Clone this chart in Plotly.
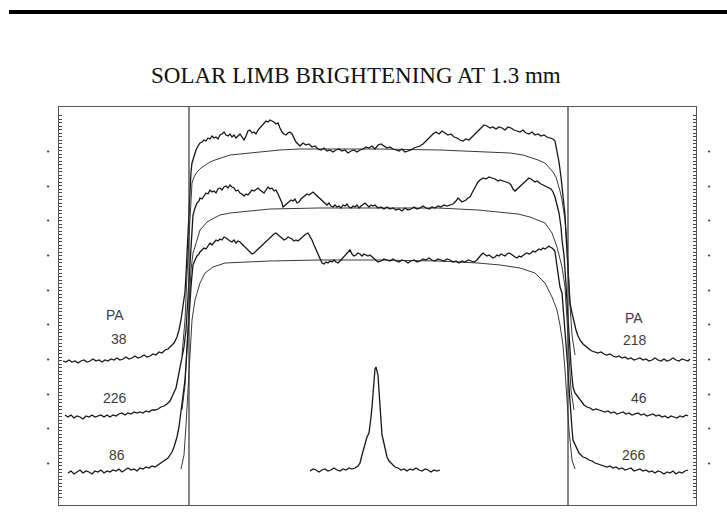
import plotly.graph_objects as go
import numpy as np

# ---- data (offset from disk centre, signal) ----
scan_pa38_218 = [(-315,144),(-312,143),(-309,145),(-306,143),(-303,144),(-300,142),(-297,144),(-294,145),(-291,143),(-288,144),(-285,146),(-282,144),(-279,145),(-276,143),(-273,145),(-270,144),(-267,146),(-264,145),(-261,147),(-258,145),(-255,146),(-252,148),(-249,146),(-246,147),(-243,149),(-240,147),(-237,148),(-234,150),(-231,148),(-228,149),(-225,151),(-222,150),(-219,153),(-216,152),(-213,155),(-210,156),(-207,159),(-204,162),(-201,168),(-199,175),(-197,185),(-195,198),(-193,213),(-192,230),(-191,250),(-190,275),(-189,300),(-188,320),(-187,333),(-186,342),(-184,350),(-182,355),(-180,359),(-178,362),(-176,363),(-174,365),(-172,364),(-170,367),(-168,366),(-166,369),(-164,367),(-162,368),(-160,366),(-158,370),(-156,371),(-154,373),(-152,370),(-150,369),(-148,371),(-146,368),(-144,370),(-142,367),(-140,369),(-138,371),(-136,368),(-134,365),(-132,369),(-130,374),(-128,375),(-126,372),(-124,373),(-122,371),(-120,375),(-118,377),(-116,380),(-114,382),(-112,384),(-110,383),(-108,385),(-106,384),(-104,383),(-102,381),(-100,382),(-98,377),(-96,373),(-94,371),(-92,370),(-90,372),(-88,373),(-86,371),(-84,367),(-82,363),(-80,361),(-78,359),(-75,362),(-72,360),(-69,361),(-66,358),(-63,359),(-60,356),(-57,355),(-54,357),(-51,354),(-48,355),(-45,353),(-42,355),(-39,356),(-36,354),(-33,355),(-30,352),(-27,354),(-24,355),(-21,353),(-18,355),(-15,356),(-12,358),(-9,357),(-6,359),(-3,356),(0,360),(3,361),(6,359),(9,357),(12,358),(15,356),(18,355),(21,354),(24,356),(27,353),(30,354),(33,355),(36,357),(39,358),(42,359),(45,361),(48,364),(50,367),(52,369),(55,371),(58,373),(61,371),(64,374),(67,372),(70,370),(73,371),(76,368),(79,367),(82,365),(85,364),(88,366),(91,365),(94,368),(97,371),(100,375),(103,378),(106,380),(109,379),(112,377),(115,378),(118,376),(121,378),(124,377),(127,375),(130,378),(133,377),(136,375),(139,374),(142,373),(145,375),(148,372),(151,371),(154,373),(157,370),(160,371),(163,369),(166,370),(169,368),(172,367),(175,366),(177,364),(179,355),(181,343),(183,328),(185,310),(187,290),(188,270),(189,250),(190,230),(191,215),(192,202),(194,192),(196,183),(198,175),(200,169),(202,165),(205,161),(208,158),(211,156),(214,154),(217,153),(220,152),(223,153),(226,151),(229,150),(232,151),(235,149),(238,148),(241,149),(244,147),(247,148),(250,146),(253,147),(256,145),(259,146),(262,147),(265,145),(268,146),(271,144),(274,145),(277,147),(280,145),(283,144),(286,146),(289,144),(292,145),(295,147),(298,145),(301,144),(304,146),(307,145),(310,144),(312,146)]

scan_pa226_46 = [(-313,90),(-310,88),(-307,90),(-304,87),(-301,89),(-298,88),(-295,86),(-292,89),(-289,88),(-286,90),(-283,88),(-280,89),(-277,90),(-274,88),(-271,90),(-268,88),(-265,90),(-262,89),(-259,91),(-256,92),(-253,90),(-250,92),(-247,91),(-244,93),(-241,92),(-238,93),(-235,92),(-232,94),(-229,93),(-226,95),(-223,95),(-220,96),(-217,98),(-214,99),(-211,101),(-208,104),(-206,108),(-204,112),(-202,117),(-201,122),(-199,132),(-197,142),(-195,152),(-194,158),(-192,175),(-191,192),(-190,212),(-189,230),(-188,245),(-187,262),(-186,276),(-185,290),(-183,297),(-181,302),(-179,304),(-178,307),(-176,306),(-174,309),(-172,312),(-170,311),(-168,315),(-166,313),(-164,314),(-162,312),(-160,316),(-158,317),(-156,315),(-154,318),(-152,319),(-150,317),(-148,320),(-146,318),(-144,317),(-142,314),(-140,315),(-138,312),(-136,311),(-134,309),(-132,311),(-130,310),(-128,313),(-126,315),(-124,314),(-122,316),(-120,317),(-118,315),(-116,313),(-114,312),(-112,315),(-110,318),(-108,316),(-106,317),(-104,314),(-102,315),(-100,311),(-98,307),(-96,302),(-95,298),(-93,300),(-91,302),(-89,303),(-87,305),(-85,304),(-83,306),(-81,302),(-79,303),(-77,306),(-75,308),(-73,309),(-71,311),(-69,310),(-67,312),(-65,313),(-63,311),(-61,309),(-59,307),(-57,305),(-55,303),(-53,301),(-51,300),(-49,302),(-47,299),(-45,298),(-43,300),(-41,298),(-39,299),(-37,297),(-35,300),(-33,299),(-31,301),(-29,298),(-27,297),(-25,299),(-23,298),(-21,300),(-19,297),(-17,299),(-15,301),(-13,302),(-11,300),(-9,298),(-7,300),(-5,299),(-3,300),(0,297),(3,298),(6,296),(9,298),(12,296),(15,297),(18,295),(21,296),(24,294),(27,297),(30,295),(33,296),(36,298),(39,296),(42,297),(45,299),(48,297),(51,296),(54,298),(57,297),(60,299),(63,298),(66,300),(69,299),(72,300),(75,301),(78,304),(80,307),(82,305),(84,303),(86,304),(88,305),(90,307),(92,308),(94,312),(96,316),(98,320),(100,323),(102,325),(105,327),(108,326),(111,328),(114,327),(117,326),(120,324),(122,325),(125,324),(128,323),(131,322),(133,320),(135,316),(137,314),(139,316),(141,318),(143,320),(145,322),(147,323),(149,325),(151,327),(153,326),(155,324),(157,323),(159,324),(161,322),(163,321),(165,320),(167,319),(169,318),(171,317),(173,316),(175,313),(177,308),(179,300),(181,292),(183,278),(184,265),(186,250),(187,238),(188,220),(189,203),(190,185),(191,170),(192,155),(193,140),(194,128),(195,118),(197,112),(200,108),(203,104),(206,100),(209,98),(212,97),(215,95),(218,96),(221,95),(224,94),(227,93),(230,94),(233,92),(236,93),(239,91),(242,92),(245,93),(248,91),(251,92),(254,90),(257,91),(260,92),(263,90),(266,91),(269,89),(272,90),(275,91),(278,89),(281,90),(284,88),(287,89),(290,87),(293,89),(296,88),(299,87),(302,89),(305,88),(308,90),(310,89)]

scan_pa86_266 = [(-310,32),(-307,34),(-304,31),(-301,33),(-298,35),(-295,32),(-292,34),(-289,33),(-286,31),(-283,34),(-280,33),(-277,35),(-274,32),(-271,34),(-268,33),(-265,35),(-262,34),(-259,36),(-256,33),(-253,35),(-250,37),(-247,35),(-244,36),(-241,34),(-238,37),(-235,36),(-232,38),(-229,37),(-226,39),(-223,38),(-220,40),(-217,42),(-214,44),(-212,45),(-210,47),(-208,50),(-206,53),(-204,58),(-202,64),(-201,68),(-199,78),(-197,92),(-195,108),(-193,125),(-192,140),(-191,158),(-190,175),(-189,192),(-188,205),(-187,218),(-186,230),(-185,240),(-183,245),(-181,249),(-179,251),(-178,253),(-176,255),(-174,257),(-172,256),(-170,259),(-168,262),(-166,260),(-164,263),(-162,265),(-160,264),(-158,266),(-156,265),(-154,268),(-152,267),(-150,265),(-148,264),(-146,263),(-144,265),(-142,262),(-140,264),(-138,263),(-136,261),(-134,259),(-132,257),(-130,255),(-128,253),(-126,251),(-124,252),(-122,254),(-120,256),(-118,258),(-116,260),(-114,262),(-112,264),(-110,265),(-108,267),(-106,269),(-104,271),(-102,272),(-100,270),(-98,268),(-96,266),(-94,265),(-92,266),(-90,268),(-88,267),(-86,266),(-84,264),(-82,265),(-80,264),(-78,266),(-76,268),(-74,269),(-72,271),(-70,272),(-68,269),(-66,265),(-64,260),(-62,255),(-60,250),(-58,245),(-56,242),(-54,241),(-52,243),(-50,242),(-48,244),(-46,243),(-44,245),(-42,243),(-40,242),(-38,244),(-36,246),(-34,248),(-32,250),(-30,252),(-28,255),(-26,251),(-24,249),(-22,250),(-20,252),(-18,251),(-16,249),(-14,251),(-12,250),(-10,249),(-8,250),(-6,248),(-4,247),(-2,245),(0,243),(3,244),(6,246),(9,245),(12,244),(15,246),(18,244),(21,243),(24,245),(27,244),(30,242),(33,244),(36,245),(39,243),(42,244),(45,246),(48,245),(51,247),(54,245),(57,244),(60,246),(63,245),(66,244),(69,246),(72,245),(75,243),(78,244),(81,242),(84,244),(87,243),(90,245),(93,244),(96,243),(99,245),(101,248),(103,250),(105,252),(107,250),(109,249),(111,250),(113,248),(115,247),(117,248),(119,250),(121,249),(123,251),(125,250),(127,249),(129,251),(131,252),(133,251),(135,249),(137,248),(139,247),(141,249),(143,248),(145,250),(147,251),(149,252),(151,251),(153,252),(155,254),(157,253),(159,255),(161,256),(163,255),(165,257),(167,256),(169,258),(171,259),(172,258),(174,257),(176,255),(177,253),(178,246),(179,238),(181,225),(182,218),(184,212),(185,200),(186,188),(187,175),(188,162),(189,148),(190,135),(191,118),(192,100),(193,88),(194,76),(195,65),(197,60),(199,55),(201,52),(203,50),(205,48),(208,47),(211,45),(214,44),(217,42),(220,41),(223,40),(226,39),(229,38),(232,39),(235,37),(238,38),(241,36),(244,37),(247,35),(250,36),(253,37),(256,34),(259,35),(262,36),(265,34),(268,35),(271,33),(274,34),(277,32),(280,34),(283,33),(286,31),(289,33),(292,32),(295,34),(298,31),(301,33),(304,32),(307,34),(310,35)]

model_upper = [(-196,150),(-193,185),(-191,230),(-189,270),(-188,295),(-187,310),(-186,322),(-184,328),(-181,333),(-177,337),(-173,340),(-168,343),(-163,345),(-155,348),(-148,350),(-138,351),(-128,352),(-113,354),(-98,355),(-78,356),(-58,356),(0,356),(62,355),(102,353),(132,352),(145,350),(152,348),(160,345),(167,342),(172,337),(175,333),(178,328),(180,322),(182,314),(184,305),(186,293),(187,285),(189,262),(190,240),(192,200),(194,170),(197,150)]

model_middle = [(-196,95),(-193,120),(-191,160),(-189,200),(-187,235),(-185,252),(-183,260),(-181,265),(-178,275),(-171,283),(-164,287),(-158,290),(-148,292),(-138,293),(-108,296),(-60,297),(0,297),(60,297),(100,295),(122,293),(140,291),(152,288),(160,285),(167,282),(174,272),(179,258),(184,238),(187,218),(189,185),(191,150),(193,115),(196,95)]

model_lower = [(-197,36),(-194,50),(-192,80),(-190,120),(-188,160),(-186,185),(-183,205),(-178,222),(-173,232),(-165,238),(-153,242),(-133,243),(-108,244),(-60,245),(0,245),(60,244),(100,242),(122,240),(142,237),(157,232),(167,222),(174,208),(179,195),(182,180),(185,160),(187,135),(189,105),(191,75),(194,45),(197,36)]

beam_pattern = [(-68,34),(-65,36),(-62,35),(-59,33),(-56,35),(-53,36),(-50,34),(-47,35),(-44,37),(-41,35),(-38,34),(-35,36),(-32,35),(-29,37),(-26,36),(-23,37),(-20,39),(-18,42),(-16,50),(-14,58),(-12,64),(-11,68),(-9,72),(-8,78),(-7,88),(-6,98),(-5,112),(-4,128),(-3,136),(-2,138),(-1,133),(0,130),(1,114),(2,98),(3,84),(4,70),(5,66),(6,62),(7,56),(9,48),(11,44),(13,42),(15,40),(17,38),(20,37),(23,35),(26,36),(29,34),(32,36),(35,35),(38,37),(41,35),(44,34),(47,36),(50,35),(53,33),(56,35),(59,34),(62,35)]

limb_offsets = [-189, 190]
dot_levels = [353, 318, 284, 249, 214, 180, 145, 110, 76, 41]

left_labels = [("PA", -263, 190), ("38", -259, 166), ("226", -263, 107), ("86", -261, 50)]
right_labels = [("PA", 256, 187), ("218", 257, 165), ("46", 261, 107), ("266", 256, 50)]

title_text = "SOLAR LIMB BRIGHTENING AT 1.3 mm"

# ---- figure ----
fig = go.Figure()

def add_curve(pts, color, width):
    xs, ys = zip(*pts)
    fig.add_trace(go.Scatter(x=list(xs), y=list(ys), mode="lines",
                             line=dict(color=color, width=width),
                             hoverinfo="skip", showlegend=False))

for m in (model_upper, model_middle, model_lower):
    add_curve(m, "#3a3a3a", 1.0)
for s in (scan_pa38_218, scan_pa226_46, scan_pa86_266):
    add_curve(s, "#161616", 1.3)
add_curve(beam_pattern, "#161616", 1.3)

for lx in limb_offsets:
    fig.add_shape(type="line", xref="x", yref="paper", x0=lx, x1=lx, y0=0, y1=1,
                  line=dict(color="#333333", width=1.2))

# top rule
fig.add_shape(type="line", xref="paper", yref="paper", x0=-0.0785, x1=1.06,
              y0=1.2387, y1=1.2387, line=dict(color="black", width=4))

annots = []
for txt, x, y in left_labels + right_labels:
    annots.append(dict(x=x, y=y, xref="x", yref="y", text=txt, showarrow=False,
                       font=dict(family="Liberation Sans, Arial, sans-serif", size=14, color="#3c3c3c")))
# level dots just outside both frame edges
for px in (-0.0173, 1.0204):
    for lv in dot_levels:
        annots.append(dict(x=px, y=lv, xref="paper", yref="y", text="•", showarrow=False,
                           xanchor="center", yanchor="middle",
                           font=dict(family="DejaVu Sans", size=7, color="#333333")))
annots.append(dict(x=0.466, y=1.080, xref="paper", yref="paper", text=title_text,
                   showarrow=False, xanchor="center", yanchor="middle",
                   font=dict(family="Liberation Serif, Times New Roman, serif", size=23, color="#111111")))

ruler_ticks = list(np.arange(8, 392, 3.5))

fig.update_layout(
    width=727, height=522,
    margin=dict(l=59, r=31, t=107, b=17),
    paper_bgcolor="white", plot_bgcolor="white",
    showlegend=False,
    annotations=annots,
    xaxis=dict(range=[-319, 318], showgrid=False, zeroline=False, showticklabels=False,
               showline=True, mirror=True, linecolor="#555555", linewidth=1, ticks=""),
    yaxis=dict(range=[0, 398], showgrid=False, zeroline=False, showticklabels=False,
               showline=True, mirror="ticks", linecolor="#555555", linewidth=1,
               ticks="inside", ticklen=3, tickwidth=1, tickcolor="#444444",
               tickmode="array", tickvals=ruler_ticks),
)

fig.write_html("out.html", config={"displayModeBar": False},
               post_script="document.body.style.margin='0px';")
